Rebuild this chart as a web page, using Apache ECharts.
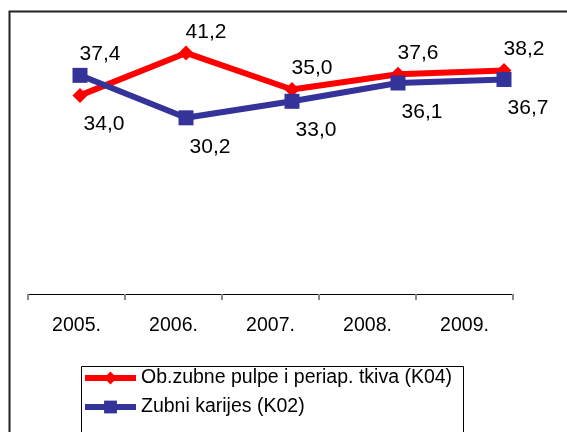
<!DOCTYPE html>
<html>
<head>
<meta charset="utf-8">
<style>
html,body{margin:0;padding:0;background:#fff;}
#chart{width:567px;height:432px;}
</style>
<script src="https://cdn.jsdelivr.net/npm/echarts@6/dist/echarts.min.js"></script>
</head>
<body>
<div id="chart"></div>
<script>
const categories = ['2005.', '2006.', '2007.', '2008.', '2009.'];
const pulpValues = [34.0, 41.2, 35.0, 37.6, 38.2];
const cariesValues = [37.4, 30.2, 33.0, 36.1, 36.7];
const pulpName = 'Ob.zubne pulpe i periap. tkiva (K04)';
const cariesName = 'Zubni karijes (K02)';

const FONT = 'Arial, "Liberation Sans", sans-serif';

function fmt(v) { return v.toFixed(1).replace('.', ','); }

function labelsFor(own, other) {
  return own.map(function (v, i) {
    const above = v >= other[i];
    return {
      value: v,
      label: above
        ? { position: 'top', offset: [20, 2] }
        : { position: 'bottom', offset: [24, 6] }
    };
  });
}

const chart = echarts.init(document.getElementById('chart'), null, { renderer: 'canvas' });
chart.setOption({
  backgroundColor: '#fff',
  animation: false,
  graphic: [{
    type: 'rect',
    left: 7, top: 9,
    shape: { width: 640, height: 520 },
    style: { fill: 'none', stroke: '#222', lineWidth: 2 },
    z: -1
  }, {
    type: 'rect',
    left: 79, top: 364,
    shape: { width: 382, height: 100 },
    style: { fill: 'none', stroke: '#000', lineWidth: 1 },
    z: 0
  }],
  grid: [
    { left: 27, width: 530, top: 1, height: 295 },
    { left: 28, width: 485, top: 100, height: 194 }
  ],
  xAxis: [
    { type: 'category', gridIndex: 0, data: categories, show: false, boundaryGap: true },
    {
      type: 'category', gridIndex: 1, data: categories, boundaryGap: true,
      axisLine: { lineStyle: { color: '#000', width: 1 } },
      axisTick: { show: true, length: 6, lineStyle: { color: '#888', width: 2 } },
      axisLabel: { color: '#000', fontSize: 19.5, fontFamily: FONT, margin: 22, lineHeight: 20 }
    }
  ],
  yAxis: [
    { type: 'value', gridIndex: 0, min: 0, max: 50, show: false },
    { type: 'value', gridIndex: 1, show: false }
  ],
  legend: {
    orient: 'vertical',
    left: 79, top: 364,
    padding: [3, 7, 3, 3],
    itemWidth: 51, itemHeight: 16, itemGap: 7,
    lineStyle: { width: 6 },
    textStyle: { color: '#000', fontSize: 19.5, fontFamily: FONT, lineHeight: 22 },
    data: [pulpName, cariesName]
  },
  series: [
    {
      name: pulpName, type: 'line', xAxisIndex: 0, yAxisIndex: 0,
      data: labelsFor(pulpValues, cariesValues),
      symbol: 'diamond', symbolSize: 15,
      lineStyle: { color: '#ff0000', width: 6 },
      itemStyle: { color: '#ff0000' },
      label: { show: true, color: '#000', fontSize: 21, fontFamily: FONT, formatter: function (p) { return fmt(p.value); } },
      z: 3
    },
    {
      name: cariesName, type: 'line', xAxisIndex: 0, yAxisIndex: 0,
      data: labelsFor(cariesValues, pulpValues),
      symbol: 'rect', symbolSize: 15,
      lineStyle: { color: '#333399', width: 6 },
      itemStyle: { color: '#333399' },
      label: { show: true, color: '#000', fontSize: 21, fontFamily: FONT, formatter: function (p) { return fmt(p.value); } },
      z: 4
    }
  ]
});
</script>
</body>
</html>
